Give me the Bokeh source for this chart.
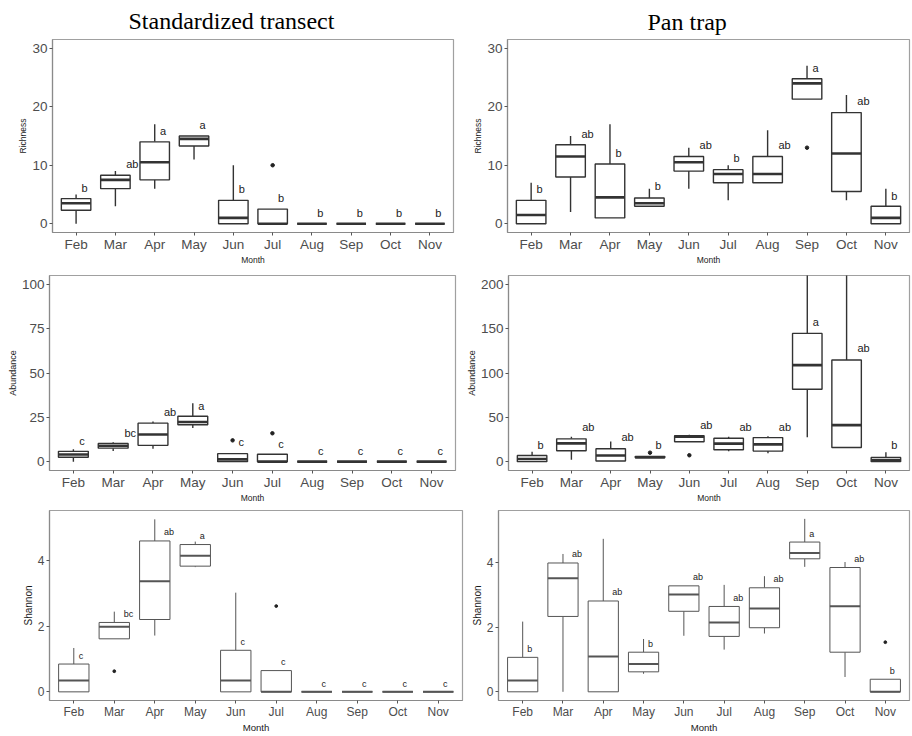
import numpy as np
from bokeh.plotting import figure
from bokeh.models import Range1d, FixedTicker, Title
from bokeh.layouts import column, row
from bokeh.embed import file_html
from bokeh.resources import INLINE
from bokeh.core.properties import value

months = ["Feb", "Mar", "Apr", "May", "Jun", "Jul", "Aug", "Sep", "Oct", "Nov"]

# ---- Richness, standardized transect
rich_st_lo = [0, 3, 6, 11, 0, 0, 0, 0, 0, 0]
rich_st_q1 = [2.3, 6, 7.5, 13.3, 0, 0, 0, 0, 0, 0]
rich_st_med = [3.5, 7.5, 10.5, 14.5, 1, 0, 0, 0, 0, 0]
rich_st_q3 = [4.3, 8.3, 14, 15, 4, 2.5, 0, 0, 0, 0]
rich_st_hi = [5, 9, 17, 15, 10, 2.5, 0, 0, 0, 0]
rich_st_out_month = ["Jul"]
rich_st_out = [10]
rich_st_letters = ["b", "ab", "a", "a", "b", "b", "b", "b", "b", "b"]
rich_st_letter_y = [6.1, 10.2, 15.9, 16.9, 5.9, 4.4, 1.9, 1.9, 1.9, 1.9]

# ---- Richness, pan trap
rich_pt_lo = [0, 2, 1, 3, 6, 4, 7, 21.3, 4, 0]
rich_pt_q1 = [0, 8, 1, 3, 9, 7, 7, 21.3, 5.5, 0]
rich_pt_med = [1.5, 11.5, 4.5, 3.5, 10.5, 8.5, 8.5, 24, 12, 1]
rich_pt_q3 = [4, 13.5, 10.2, 4.4, 11.5, 9.25, 11.5, 24.8, 19, 3]
rich_pt_hi = [7, 15, 17, 6, 13, 10, 16, 27, 22, 6]
rich_pt_out_month = ["Sep"]
rich_pt_out = [13]
rich_pt_letters = ["b", "ab", "b", "b", "ab", "b", "ab", "a", "ab", "b"]
rich_pt_letter_y = [5.9, 15.4, 12.1, 6.4, 13.4, 11.2, 13.4, 26.7, 21, 4.8]

# ---- Abundance, standardized transect
abun_st_lo = [0, 6, 7.2, 19, 0, 0, 0, 0, 0, 0]
abun_st_q1 = [2.5, 7.6, 9.2, 20.8, 0, 0, 0, 0, 0, 0]
abun_st_med = [4, 9, 15.3, 22.4, 1.3, 0, 0, 0, 0, 0]
abun_st_q3 = [5.8, 10.3, 21.7, 25.6, 4.5, 4.2, 0, 0, 0, 0]
abun_st_hi = [7, 11, 22.6, 33, 4.5, 4.2, 0, 0, 0, 0]
abun_st_out_month = ["Jun", "Jul"]
abun_st_out = [12, 16]
abun_st_letters = ["c", "bc", "ab", "a", "c", "c", "c", "c", "c", "c"]
abun_st_letter_y = [11.7, 16.4, 27.8, 31.6, 11, 10.1, 6.1, 6.1, 6.1, 6.1]

# ---- Abundance, pan trap
abun_pt_lo = [0, 2, 0.7, 4.3, 22.4, 11.6, 9.4, 27.5, 15.9, 0]
abun_pt_q1 = [0, 12.3, 0.7, 4.3, 22.4, 13.4, 11.9, 81.7, 15.9, 0]
abun_pt_med = [2.9, 20.6, 6.9, 5, 28.2, 20.3, 19.5, 108.9, 41.2, 1.4]
abun_pt_q3 = [6.9, 25.7, 14.5, 5.8, 29.3, 26.4, 27.1, 144.7, 114.6, 4.7]
abun_pt_hi = [11.2, 28.2, 22.8, 5.8, 30.4, 28.2, 28.6, 250, 250, 10.5]
abun_pt_out_month = ["May", "Jun"]
abun_pt_out = [10.1, 7.2]
abun_pt_letters = ["b", "ab", "ab", "b", "ab", "ab", "ab", "a", "ab", "b"]
abun_pt_letter_y = [19.2, 39, 27.5, 19.2, 41.2, 39.4, 39.4, 157, 127.7, 18.4]

# ---- Shannon, standardized transect
shan_st_lo = [0, 1.62, 1.72, 3.81, 0, 0, 0, 0, 0, 0]
shan_st_q1 = [0, 1.62, 2.21, 3.84, 0, 0, 0, 0, 0, 0]
shan_st_med = [0.35, 1.99, 3.38, 4.16, 0.35, 0, 0, 0, 0, 0]
shan_st_q3 = [0.85, 2.12, 4.61, 4.5, 1.27, 0.65, 0, 0, 0, 0]
shan_st_hi = [1.34, 2.45, 5.27, 4.59, 3.03, 0.65, 0, 0, 0, 0]
shan_st_out_month = ["Mar", "Jul"]
shan_st_out = [0.63, 2.62]
shan_st_letters = ["c", "bc", "ab", "a", "c", "c", "c", "c", "c", "c"]
shan_st_letter_y = [1.09, 2.37, 4.87, 4.76, 1.53, 0.9, 0.24, 0.24, 0.24, 0.24]

# ---- Shannon, pan trap
shan_pt_lo = [0, 0, 0, 0.56, 1.74, 1.31, 1.81, 3.88, 0.46, 0]
shan_pt_q1 = [0, 2.34, 0, 0.62, 2.5, 1.72, 1.99, 4.13, 1.23, 0]
shan_pt_med = [0.35, 3.53, 1.1, 0.86, 3.02, 2.15, 2.59, 4.31, 2.66, 0]
shan_pt_q3 = [1.07, 4.0, 2.82, 1.23, 3.29, 2.65, 3.23, 4.65, 3.86, 0.39]
shan_pt_hi = [2.18, 4.28, 4.75, 1.64, 3.29, 3.32, 3.59, 5.37, 4.03, 0.39]
shan_pt_out_month = ["Nov"]
shan_pt_out = [1.54]
shan_pt_letters = ["b", "ab", "ab", "b", "ab", "ab", "ab", "a", "ab", "b"]
shan_pt_letter_y = [1.32, 4.28, 3.09, 1.49, 3.57, 2.91, 3.5, 4.91, 4.13, 0.64]

SANS = "Liberation Sans"
BOX_W = 0.75


def panel(width, height, borders, ylim, yticks, ylabel, stats, out_m, out_v,
          letters, letter_y, big=True):
    lo, q1, med, q3, hi = stats
    p = figure(width=width, height=height,
               x_range=Range1d(0.4, 10.6), y_range=Range1d(*ylim),
               output_backend="svg", toolbar_location=None, title=None,
               min_border_left=borders[0], min_border_right=borders[1],
               min_border_top=borders[2], min_border_bottom=borders[3])
    p.background_fill_color = "white"
    p.border_fill_color = "white"
    p.outline_line_color = "#a0a0a0"
    p.outline_line_width = 1.2
    p.xgrid.visible = False
    p.ygrid.visible = False

    x = np.arange(1, len(months) + 1)
    pos = {m: i + 1 for i, m in enumerate(months)}
    lc = "#333333" if big else "#555555"
    lw = 1.4 if big else 1.0
    mw = 2.6 if big else 2.0

    p.segment(x0=x, y0=lo, x1=x, y1=q1, line_color=lc, line_width=lw)
    p.segment(x0=x, y0=q3, x1=x, y1=hi, line_color=lc, line_width=lw)
    p.vbar(x=x, width=BOX_W, bottom=q1, top=q3, fill_color="white",
           line_color=lc, line_width=lw)
    p.segment(x0=x - BOX_W / 2, y0=med, x1=x + BOX_W / 2, y1=med,
              line_color=lc, line_width=mw)
    p.scatter(x=[pos[m] for m in out_m], y=out_v, size=3.5 if big else 2.8,
              color="#222222")
    k = 0.215 if big else 0.175
    p.text(x=[xi + k * len(t) for xi, t in zip(x, letters)], y=letter_y,
           text=letters, text_align="center", text_baseline="middle",
           text_font=value(SANS), text_font_size="11px" if big else "9px",
           text_color="#222222")

    tick_fs = "13.5px" if big else "12px"
    for ax in (p.xaxis[0], p.yaxis[0]):
        ax.axis_line_color = "#8a8a8a"
        ax.axis_line_width = 1.2
        ax.major_tick_line_color = "#555555"
        ax.major_tick_out = 3
        ax.major_tick_in = 0
        ax.minor_tick_line_color = None
        ax.major_label_text_font = SANS
        ax.major_label_text_font_size = tick_fs
        ax.major_label_text_color = "#4d4d4d"
        ax.axis_label_text_font = SANS
        ax.axis_label_text_font_style = "normal"
        ax.axis_label_text_color = "#1a1a1a"
    p.xaxis.ticker = FixedTicker(ticks=list(x))
    p.xaxis.major_label_overrides = {int(i): m for i, m in zip(x, months)}
    p.xaxis.major_label_standoff = 1
    p.xaxis.axis_label = "Month"
    p.xaxis.axis_label_standoff = 0
    p.xaxis.axis_label_text_font_size = "8.5px" if big else "9.6px"
    p.yaxis.ticker = FixedTicker(ticks=yticks)
    p.yaxis.major_label_standoff = 2
    p.yaxis.axis_label = ylabel
    p.yaxis.axis_label_standoff = 1
    p.yaxis.axis_label_text_font_size = ("8.5px" if ylabel == "Richness" else "9px") if big else "10px"
    return p


# borders: (left, right, top, bottom)
p1 = panel(470, 267, (52, 17, 39, 29), (-1.5, 31.5), [0, 10, 20, 30], "Richness",
           (rich_st_lo, rich_st_q1, rich_st_med, rich_st_q3, rich_st_hi),
           rich_st_out_month, rich_st_out, rich_st_letters, rich_st_letter_y)
p2 = panel(441, 267, (35, 2, 36, 31), (-1.5, 31.5), [0, 10, 20, 30], "Richness",
           (rich_pt_lo, rich_pt_q1, rich_pt_med, rich_pt_q3, rich_pt_hi),
           rich_pt_out_month, rich_pt_out, rich_pt_letters, rich_pt_letter_y)
p3 = panel(463, 238, (49, 8, 8, 28), (-5, 105), [0, 25, 50, 75, 100], "Abundance",
           (abun_st_lo, abun_st_q1, abun_st_med, abun_st_q3, abun_st_hi),
           abun_st_out_month, abun_st_out, abun_st_letters, abun_st_letter_y)
p4 = panel(448, 238, (42, 2, 6, 29), (-10, 210), [0, 50, 100, 150, 200], "Abundance",
           (abun_pt_lo, abun_pt_q1, abun_pt_med, abun_pt_q3, abun_pt_hi),
           abun_pt_out_month, abun_pt_out, abun_pt_letters, abun_pt_letter_y)
p5 = panel(466, 230, (49, 4, 5, 28), (-0.264, 5.54), [0, 2, 4], "Shannon",
           (shan_st_lo, shan_st_q1, shan_st_med, shan_st_q3, shan_st_hi),
           shan_st_out_month, shan_st_out, shan_st_letters, shan_st_letter_y, big=False)
p6 = panel(445, 230, (32, 2, 5, 28), (-0.27, 5.63), [0, 2, 4], "Shannon",
           (shan_pt_lo, shan_pt_q1, shan_pt_med, shan_pt_q3, shan_pt_hi),
           shan_pt_out_month, shan_pt_out, shan_pt_letters, shan_pt_letter_y, big=False)

for p, txt, off, so in ((p1, "Standardized transect", 76, 11), (p2, "Pan trap", 140, 9)):
    p.add_layout(Title(text=txt, text_font="Liberation Serif", text_font_size="24px",
                       text_font_style="normal", text_color="black", align="left",
                       offset=off, standoff=so), "above")

layout = column(row(p1, p2, spacing=0), row(p3, p4, spacing=0),
                row(p5, p6, spacing=0), spacing=0)

with open("out.html", "w") as f:
    f.write(file_html(layout, INLINE))
